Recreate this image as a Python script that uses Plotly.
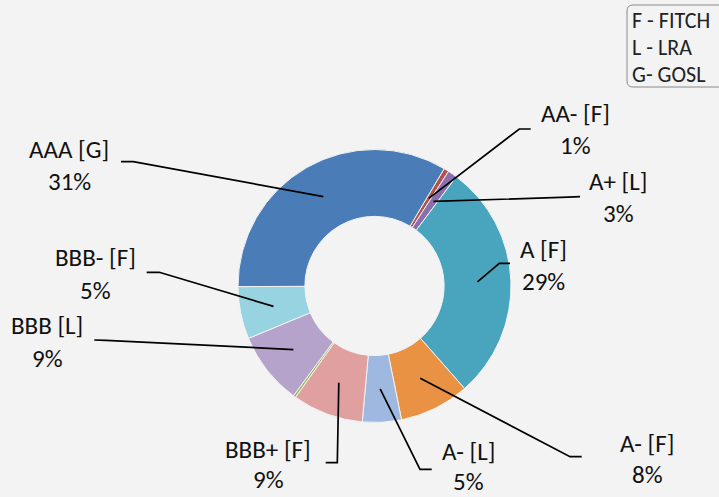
import math
import plotly.graph_objects as go

# ---- data ----
ratings = ["AA- [F]", "A+ [L]", "A [F]", "A- [F]", "A- [L]", "BBB+ [F]", "(unlabelled)", "BBB [L]", "BBB- [F]", "AAA [G]"]
shares = [0.6, 1.1, 28.3, 8.3, 4.6, 8.4, 0.3, 8.6, 6.2, 33.6]
pct_labels = ["1%", "3%", "29%", "8%", "5%", "9%", "", "9%", "5%", "31%"]
colors = ["#b8504a", "#8a6fb0", "#48a5bd", "#ea9243", "#9eb8e0", "#e0a09f", "#9bbb59", "#b5a3cb", "#98d3e2", "#4a7db8"]
key_lines = ["F - FITCH", "L - LRA", "G- GOSL"]

W, H = 719, 497
BG = "#f3f3f3"
FONT = "Carlito, Lato, sans-serif"

# geometry of the ring (pixels)
CX, CY, R = 374.5, 286.0, 136.5
HOLE = 0.51
ROT = 30.7


def px(x):
    return x / W


def py(y):
    return 1 - y / H


fig = go.Figure(go.Pie(
    labels=ratings, values=shares, sort=False, direction="clockwise",
    rotation=ROT, hole=HOLE, textinfo="none", hoverinfo="label+percent",
    marker=dict(colors=colors, line=dict(color=BG, width=1)),
    domain=dict(x=[px(CX - R), px(CX + R)], y=[py(CY + R), py(CY - R)]),
    showlegend=False,
))

# label layout: (x centre, y of name line, y of pct line, leader start, leader elbow)
label_layout = [
    (575, 114, 146, (530.7, 129), (519.3, 129)),
    (618, 182, 213, (580, 196.7), (568, 197.2)),
    (543, 250, 281, (510, 263.3), (499.3, 263.3)),
    (647, 443, 474, (581.7, 456.7), (570, 456.7)),
    (468, 451.5, 481.5, (431.7, 469.3), (420, 469.3)),
    (268, 449, 479, (325.7, 462.7), (337.3, 462.7)),
    None,
    (47, 325.5, 358, (94.3, 340), (106, 340.4)),
    (95, 257.5, 290.5, (146.7, 272.3), (159.3, 272.3)),
    (69, 149, 181, (121, 161.7), (133.3, 161.7)),
]

total = sum(shares)
cum = 0.0
rmid = R * (1 + HOLE) / 2
annotations = []
shapes = []
for name, v, pct, lay in zip(ratings, shares, pct_labels, label_layout):
    mid = math.radians(ROT + 360 * (cum + v / 2) / total)
    cum += v
    if lay is None:
        continue
    lx, y1, y2, s0, s1 = lay
    ex, ey = CX + rmid * math.sin(mid), CY - rmid * math.cos(mid)
    for txt, yy in ((name, y1), (pct, y2)):
        annotations.append(dict(
            x=px(lx), y=py(yy), xref="paper", yref="paper", text=txt,
            showarrow=False, xanchor="center", yanchor="middle", borderpad=0,
            font=dict(family=FONT, size=25, color="#111111")))
    path = f"M {px(s0[0])},{py(s0[1])} L {px(s1[0])},{py(s1[1])} L {px(ex)},{py(ey)}"
    shapes.append(dict(type="path", path=path, xref="paper", yref="paper",
                       line=dict(color="black", width=1.7)))

# key box (rounded rectangle, cut by the right edge)
bx0, by0, bx1, by1, rr = 627, 5, 724, 87, 6
box = (f"M {px(bx0 + rr)},{py(by0)} L {px(bx1)},{py(by0)} L {px(bx1)},{py(by1)} "
       f"L {px(bx0 + rr)},{py(by1)} Q {px(bx0)},{py(by1)} {px(bx0)},{py(by1 - rr)} "
       f"L {px(bx0)},{py(by0 + rr)} Q {px(bx0)},{py(by0)} {px(bx0 + rr)},{py(by0)} Z")
shapes.append(dict(type="path", path=box, xref="paper", yref="paper",
                   line=dict(color="#8a8a8a", width=1), fillcolor=BG))
for i, t in enumerate(key_lines):
    annotations.append(dict(
        x=px(630.5), y=py(20.5 + 26.8 * i), xref="paper", yref="paper", text=t,
        showarrow=False, xanchor="left", yanchor="middle", borderpad=0,
        font=dict(family=FONT, size=22, color="#222222")))

fig.update_layout(
    width=W, height=H, margin=dict(l=0, r=0, t=0, b=0),
    paper_bgcolor=BG, plot_bgcolor=BG,
    annotations=annotations, shapes=shapes,
)

fig.write_html("out.html", config={"displayModeBar": False})

# remove the browser's default page margin so the figure fills the window
with open("out.html", encoding="utf-8") as f:
    html = f.read()
html = html.replace("<head>", "<head><style>html,body{margin:0;padding:0;overflow:hidden;background:#f3f3f3;}</style>", 1)
with open("out.html", "w", encoding="utf-8") as f:
    f.write(html)
